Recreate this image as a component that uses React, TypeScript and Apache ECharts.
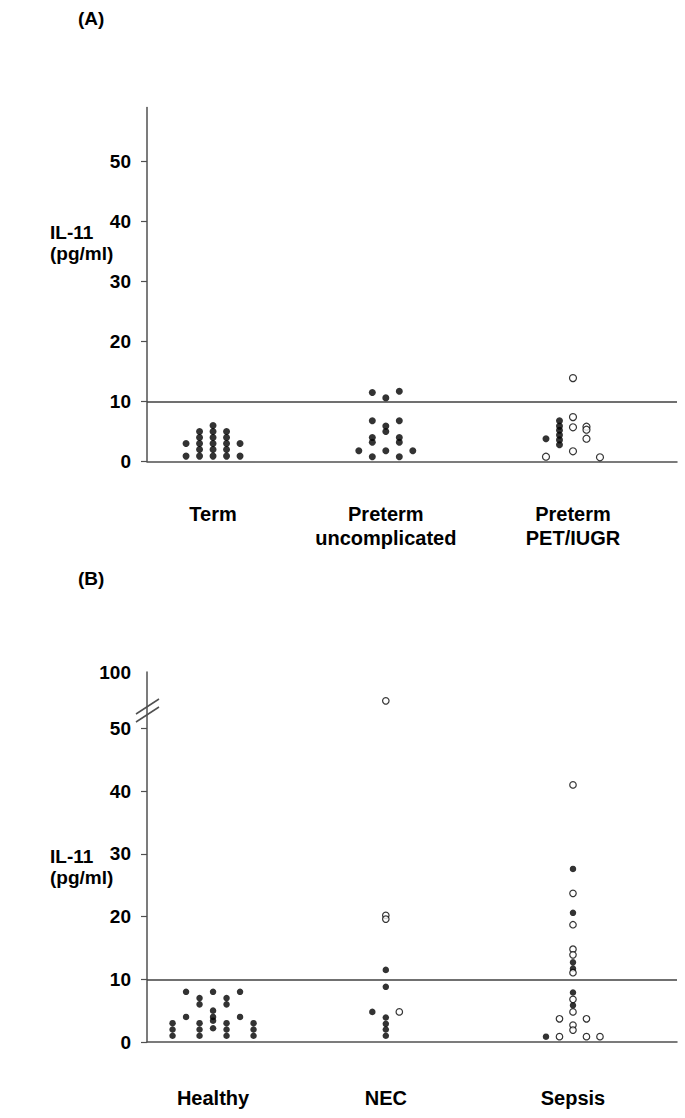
import React, { useEffect, useRef } from 'react';
import * as echarts from 'echarts';

// ---- Data ----
const namesA = ['Term', 'Preterm\nuncomplicated', 'Preterm\nPET/IUGR'];
const namesB = ['Healthy', 'NEC', 'Sepsis'];
const groupPos = [0, 0.96, 2];
const colStep = 0.075; // one dot column, in x-axis units
const yTicksA = [0, 10, 20, 30, 40, 50];
const yTicksB = [0, 10, 20, 30, 40, 50, 59];
const yLabelsB = ['0', '10', '20', '30', '40', '50', '100'];
const threshold = 10;

// each point: [group, column, IL-11 value]
const filledA = [
  // Term
  [0, -2, 0.9], [0, -2, 3],
  [0, -1, 0.9], [0, -1, 2], [0, -1, 3], [0, -1, 4], [0, -1, 5],
  [0, 0, 0.9], [0, 0, 2], [0, 0, 3], [0, 0, 4], [0, 0, 5], [0, 0, 6],
  [0, 1, 0.9], [0, 1, 2], [0, 1, 3], [0, 1, 4], [0, 1, 5],
  [0, 2, 0.9], [0, 2, 3],
  // Preterm uncomplicated
  [1, -2, 1.8],
  [1, -1, 11.5], [1, -1, 6.8], [1, -1, 4.0], [1, -1, 3.2], [1, -1, 0.8],
  [1, 0, 10.6], [1, 0, 5.9], [1, 0, 5.0], [1, 0, 1.8],
  [1, 1, 11.7], [1, 1, 6.8], [1, 1, 4.0], [1, 1, 3.2], [1, 1, 0.8],
  [1, 2, 1.8],
  // Preterm PET/IUGR
  [2, -2, 3.8],
  [2, -1, 6.8], [2, -1, 5.9], [2, -1, 5.2], [2, -1, 4.4], [2, -1, 3.6], [2, -1, 2.8],
];
const openA = [
  [2, -2, 0.8],
  [2, 0, 13.9], [2, 0, 7.4], [2, 0, 5.7], [2, 0, 1.7],
  [2, 1, 5.8], [2, 1, 5.3], [2, 1, 3.8],
  [2, 2, 0.7],
];
const filledB = [
  // Healthy
  [0, -3, 3], [0, -3, 2], [0, -3, 1],
  [0, -2, 8], [0, -2, 4],
  [0, -1, 7], [0, -1, 6], [0, -1, 3], [0, -1, 2], [0, -1, 1],
  [0, 0, 8], [0, 0, 5], [0, 0, 4], [0, 0, 3.4], [0, 0, 2.2],
  [0, 1, 7], [0, 1, 6], [0, 1, 3], [0, 1, 2], [0, 1, 1],
  [0, 2, 8], [0, 2, 4],
  [0, 3, 3], [0, 3, 2], [0, 3, 1],
  // NEC
  [1, 0, 11.5], [1, 0, 8.8], [1, -1, 4.8], [1, 0, 3.9], [1, 0, 2.9], [1, 0, 2.0], [1, 0, 1.0],
  // Sepsis
  [2, 0, 27.6], [2, 0, 20.6], [2, 0, 12.7], [2, 0, 11.7], [2, 0, 7.9], [2, 0, 5.85],
  [2, -2, 0.85],
];
const openB = [
  // NEC
  [1, 0, 54.4], [1, 0, 20.2], [1, 0, 19.6], [1, 1, 4.8],
  // Sepsis
  [2, 0, 41.0], [2, 0, 23.7], [2, 0, 18.7], [2, 0, 14.8], [2, 0, 13.9], [2, 0, 11.05],
  [2, 0, 6.8], [2, 0, 4.8], [2, 0, 2.7], [2, 0, 1.9],
  [2, -1, 3.7], [2, 1, 3.7],
  [2, -1, 0.85], [2, 1, 0.85], [2, 2, 0.85],
];

const FONT = '"Liberation Sans", Arial, Helvetica, sans-serif';
const AXIS_COLOR = '#505050';

const toXY = (pts: number[][]) => pts.map(([g, c, v]) => [groupPos[g] + c * colStep, v]);

export default function App() {
  const ref = useRef<HTMLDivElement>(null);
  useEffect(() => {
    document.body.style.margin = '0';
    const chart = echarts.init(ref.current!, null, { renderer: 'svg' });
    const labelFmt = (names: string[]) => (v: number) => {
      const i = groupPos.findIndex((p) => Math.abs(p - v) < 1e-6);
      return i >= 0 ? names[i] : '';
    };
    const xAxisBase = (names: string[], margin: number, idx: number) => ({
      type: 'value',
      gridIndex: idx,
      min: -0.367,
      max: 2.578,
      splitLine: { show: false },
      axisTick: { show: false },
      axisLine: { show: true, onZero: false, lineStyle: { color: AXIS_COLOR, width: 1.5 } },
      axisLabel: {
        customValues: groupPos,
        formatter: labelFmt(names),
        margin,
        color: '#000',
        fontWeight: 'bold',
        fontSize: 20,
        fontFamily: FONT,
        lineHeight: 24,
        align: 'center',
        verticalAlign: 'top',
      },
    });
    const yAxisBase = (ticks: number[], fmt: (v: number) => string, idx: number) => ({
      type: 'value',
      gridIndex: idx,
      min: 0,
      max: 59,
      interval: 10,
      splitLine: { show: false },
      axisLine: { show: true, onZero: false, lineStyle: { color: AXIS_COLOR, width: 1.5 } },
      axisTick: { show: true, length: 6, customValues: yTicksA, lineStyle: { color: AXIS_COLOR, width: 1.2 } },
      axisLabel: {
        customValues: ticks,
        formatter: fmt,
        margin: 16,
        color: '#000',
        fontWeight: 'bold',
        fontSize: 19,
        fontFamily: FONT,
      },
    });
    const markLine = {
      silent: true,
      symbol: ['none', 'none'],
      label: { show: false },
      lineStyle: { color: '#404040', width: 1.5, type: 'solid' },
      data: [{ yAxis: threshold }],
    };
    const filledStyle = { color: '#000' };
    const openStyle = { color: '#fff', borderColor: '#000', borderWidth: 1.2 };
    const textStyle = { fill: '#000', font: `bold 19px ${FONT}` };

    chart.setOption({
      animation: false,
      backgroundColor: '#fff',
      grid: [
        { left: 147, right: 8, top: 107.5, height: 354 },
        { left: 147, right: 8, top: 672, height: 370 },
      ],
      xAxis: [xAxisBase(namesA, 40, 0), xAxisBase(namesB, 44, 1)],
      yAxis: [
        yAxisBase(yTicksA, (v: number) => String(v), 0),
        yAxisBase(yTicksB, (v: number) => yLabelsB[yTicksB.indexOf(v)] ?? '', 1),
      ],
      series: [
        { type: 'scatter', xAxisIndex: 0, yAxisIndex: 0, symbolSize: 7, itemStyle: filledStyle, data: toXY(filledA), markLine },
        { type: 'scatter', xAxisIndex: 0, yAxisIndex: 0, symbolSize: 7, itemStyle: openStyle, data: toXY(openA) },
        { type: 'scatter', xAxisIndex: 1, yAxisIndex: 1, symbolSize: 6.5, itemStyle: filledStyle, data: toXY(filledB), markLine },
        { type: 'scatter', xAxisIndex: 1, yAxisIndex: 1, symbolSize: 6.5, itemStyle: openStyle, data: toXY(openB) },
      ],
      graphic: [
        { type: 'text', left: 78, top: 9, style: { ...textStyle, text: '(A)' } },
        { type: 'text', left: 78, top: 569, style: { ...textStyle, text: '(B)' } },
        { type: 'text', left: 50, top: 222, style: { ...textStyle, text: 'IL-11\n(pg/ml)', lineHeight: 21 } },
        { type: 'text', left: 50, top: 846, style: { ...textStyle, text: 'IL-11\n(pg/ml)', lineHeight: 21 } },
        { type: 'line', shape: { x1: 136, y1: 714, x2: 159, y2: 699 }, style: { stroke: AXIS_COLOR, lineWidth: 1.5 } },
        { type: 'line', shape: { x1: 136, y1: 722, x2: 159, y2: 707 }, style: { stroke: AXIS_COLOR, lineWidth: 1.5 } },
      ],
    });
    return () => chart.dispose();
  }, []);
  return <div ref={ref} style={{ width: 685, height: 1118 }} />;
}
